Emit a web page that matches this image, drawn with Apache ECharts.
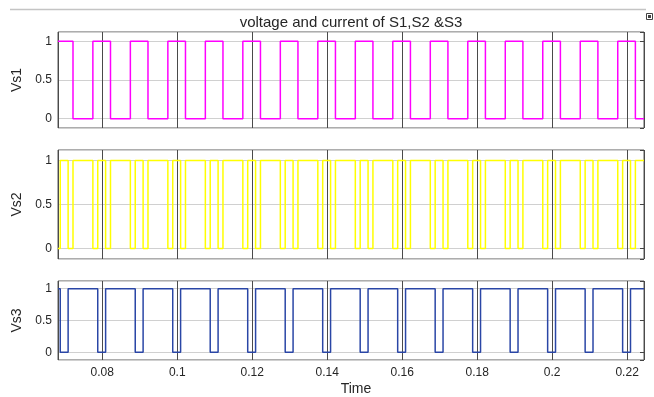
<!DOCTYPE html>
<html><head><meta charset="utf-8">
<script src="https://cdn.jsdelivr.net/npm/echarts@6/dist/echarts.min.js"></script>
<style>html,body{margin:0;padding:0;background:#fff}#c{width:654px;height:397px}</style>
</head><body><div id="c"></div>
<script>
// ---- data ----
const titleText = 'voltage and current of S1,S2 &S3';
const xAxisName = 'Time';
const seriesNames = ['Vs1', 'Vs2', 'Vs3'];
const seriesColors = ['#ff00ff', '#ffff00', '#2a46a6'];
const timeRange = [0.0682, 0.2245];
const yRange = [-0.12, 1.12];

// Vs1: starts high, toggles at each edge time
const vs1Start = 1;
const vs1Edges = [0.0722, 0.0775, 0.0822, 0.0875, 0.0922, 0.0975, 0.1022, 0.1075, 0.1122, 0.1175,
  0.1222, 0.1275, 0.1322, 0.1375, 0.1422, 0.1475, 0.1522, 0.1575, 0.1622, 0.1675,
  0.1722, 0.1775, 0.1822, 0.1875, 0.1922, 0.1975, 0.2022, 0.2075, 0.2122, 0.2175, 0.2222];

// Vs2: starts low
const vs2Start = 0;
const vs2Edges = [0.0688, 0.0709, 0.0722,
  0.0775, 0.0788, 0.0809, 0.0822, 0.0875, 0.0888, 0.0909, 0.0922,
  0.0975, 0.0988, 0.1009, 0.1022, 0.1075, 0.1088, 0.1109, 0.1122,
  0.1175, 0.1188, 0.1209, 0.1222, 0.1275, 0.1288, 0.1309, 0.1322,
  0.1375, 0.1388, 0.1409, 0.1422, 0.1475, 0.1488, 0.1509, 0.1522,
  0.1575, 0.1588, 0.1609, 0.1622, 0.1675, 0.1688, 0.1709, 0.1722,
  0.1775, 0.1788, 0.1809, 0.1822, 0.1875, 0.1888, 0.1909, 0.1922,
  0.1975, 0.1988, 0.2009, 0.2022, 0.2075, 0.2088, 0.2109, 0.2122,
  0.2175, 0.2188, 0.2209, 0.2222];

// Vs3: starts high
const vs3Start = 1;
const vs3Edges = [0.0688, 0.0709, 0.0788, 0.0809, 0.0888, 0.0909, 0.0988, 0.1009,
  0.1088, 0.1109, 0.1188, 0.1209, 0.1288, 0.1309, 0.1388, 0.1409,
  0.1488, 0.1509, 0.1588, 0.1609, 0.1688, 0.1709, 0.1788, 0.1809,
  0.1888, 0.1909, 0.1988, 0.2009, 0.2088, 0.2109, 0.2188, 0.2209];

// ---- build step data ----
function stepData(start, edges) {
  const d = [[timeRange[0], start]];
  let v = start;
  edges.forEach(t => { v = 1 - v; d.push([t, v]); });
  d.push([timeRange[1], v]);
  return d;
}
const allData = [stepData(vs1Start, vs1Edges), stepData(vs2Start, vs2Edges), stepData(vs3Start, vs3Edges)];

const grids = [
  {left: 58, right: 10, top: 32, height: 96},
  {left: 58, right: 10, top: 150, height: 109},
  {left: 58, right: 10, top: 281, height: 79}
];
const font = 'Liberation Sans, Arial, Helvetica, sans-serif';
function isMult(v, step) { const r = v / step; return Math.abs(r - Math.round(r)) < 1e-6; }

const option = {
  animation: false,
  backgroundColor: '#fff',
  grid: grids.map(g => Object.assign({show: true, borderColor: '#5a5a5a', borderWidth: 1, backgroundColor: '#fff'}, g)),
  xAxis: [0, 1, 2].map(i => ({
    type: 'value', gridIndex: i, min: timeRange[0], max: timeRange[1], splitNumber: 8,
    axisLine: {show: false},
    axisTick: {show: false},
    splitLine: {show: true, lineStyle: {color: '#4a4a4a', width: 1}},
    axisLabel: {
      show: i === 2, margin: 7, color: '#262626', fontSize: 12, fontFamily: font,
      formatter: v => isMult(v, 0.02) ? String(+v.toFixed(4)) : ''
    },
    name: i === 2 ? xAxisName : '', nameLocation: 'middle', nameGap: 22,
    nameTextStyle: {color: '#262626', fontSize: 14, fontFamily: font, padding: [0, 0, 0, 10]}
  })),
  yAxis: [0, 1, 2].map(i => ({
    type: 'value', gridIndex: i, min: yRange[0], max: yRange[1], splitNumber: 3,
    axisLine: {show: false},
    axisTick: {show: false},
    splitLine: {show: true, lineStyle: {color: '#d0d0d0', width: 1}},
    axisLabel: {
      margin: 6, color: '#262626', fontSize: 12, fontFamily: font,
      formatter: v => isMult(v, 0.5) ? String(+v.toFixed(2)) : ''
    },
    name: seriesNames[i], nameLocation: 'middle', nameGap: 30, nameRotate: 90,
    nameTextStyle: {color: '#262626', fontSize: 14, fontFamily: font}
  })).concat([0, 1, 2].map(i => ({
    type: 'value', gridIndex: i, min: yRange[0], max: yRange[1], splitNumber: 3, position: 'right',
    axisLine: {show: false}, splitLine: {show: false}, axisLabel: {show: false},
    axisTick: {show: true, inside: true, length: 4, lineStyle: {color: '#444'}}
  }))),
  series: [0, 1, 2].map(i => ({
    type: 'line', name: seriesNames[i], xAxisIndex: i, yAxisIndex: i,
    data: allData[i], step: 'end', showSymbol: false, symbol: 'none',
    lineStyle: {color: seriesColors[i], width: 1.5}, z: 5
  })),
  graphic: [
    {type: 'line', shape: {x1: 10, y1: 9.5, x2: 646, y2: 9.5}, style: {stroke: '#c4c4c4', lineWidth: 1.5}},
    {type: 'text', x: 351, y: 23, style: {text: titleText, fill: '#262626', font: '15px ' + font, textAlign: 'center', textVerticalAlign: 'middle'}},
    {type: 'rect', shape: {x: 646.5, y: 13.5, width: 6, height: 6}, style: {stroke: '#444', fill: '#fff', lineWidth: 1}},
    {type: 'rect', shape: {x: 648, y: 15, width: 3, height: 3}, style: {fill: '#444'}}
  ]
};
const chart = echarts.init(document.getElementById('c'), null, {renderer: 'canvas'});
chart.setOption(option);
</script></body></html>
